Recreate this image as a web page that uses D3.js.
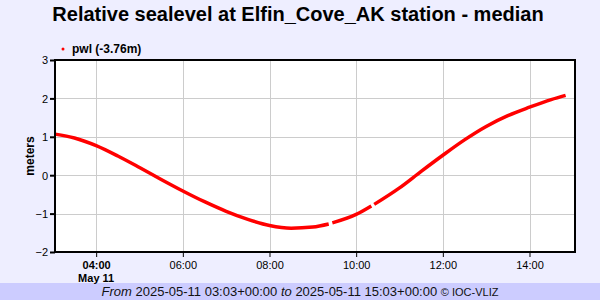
<!DOCTYPE html>
<html>
<head>
<meta charset="utf-8">
<script src="https://cdn.jsdelivr.net/npm/d3@7"></script>
<style>
  body { margin: 0; background: #eeeeff; }
  svg { display: block; font-family: "Liberation Sans", Arial, sans-serif; }
</style>
</head>
<body>
<svg id="chart" width="600" height="300"></svg>
<script>
// sea level samples (time of day, metres); null marks a gap in the record
var times = ["03:03","03:30","04:00","04:30","05:00","05:30","06:00","06:30","07:00","07:30",
             "08:00","08:30","09:00","09:22","09:24","09:27","10:00","10:21","10:23","10:25",
             "11:00","11:30","12:00","12:30","13:00","13:30","14:00","14:30","14:50"];
var levels = [1.07, 0.97, 0.77, 0.50, 0.20, -0.11, -0.41, -0.69, -0.94, -1.15,
              -1.31, -1.38, -1.35, -1.27, null, -1.24, -1.02, -0.80, null, -0.76,
              -0.33, 0.10, 0.52, 0.92, 1.27, 1.55, 1.77, 1.97, 2.08];
var yTicks = [-2, -1, 0, 1, 2, 3];
var xTickHours = ["04:00","06:00","08:00","10:00","12:00","14:00"];
var day = "2025-05-11";
var startTime = "03:03", endTime = "15:03";

var parse = d3.utcParse("%Y-%m-%d %H:%M");
var data = times.map(function(t, i) { return {t: parse(day + " " + t), v: levels[i]}; });

var svg = d3.select("#chart");
var m = {left: 55, right: 575, top: 60, bottom: 252};

var x = d3.scaleUtc().domain([parse(day + " " + startTime), parse(day + " " + endTime)]).range([m.left, m.right]);
var y = d3.scaleLinear().domain([-2, 3]).range([m.bottom, m.top]);

// footer band
svg.append("rect").attr("x", 0).attr("y", 283).attr("width", 600).attr("height", 17).attr("fill", "#ccccff");

// plot area
svg.append("rect").attr("x", m.left).attr("y", m.top).attr("width", m.right - m.left).attr("height", m.bottom - m.top).attr("fill", "#fff");

var xTicks = xTickHours.map(function(h) { return parse(day + " " + h); });
svg.append("g").selectAll("line").data(xTicks).enter().append("line")
  .attr("x1", function(d) { return Math.round(x(d)) + 0.5; }).attr("x2", function(d) { return Math.round(x(d)) + 0.5; })
  .attr("y1", m.top).attr("y2", m.bottom).attr("stroke", "#cccccc").attr("stroke-width", 1);
svg.append("g").selectAll("line").data(yTicks).enter().append("line")
  .attr("x1", m.left).attr("x2", m.right)
  .attr("y1", function(d) { return Math.round(y(d)) + 0.5; }).attr("y2", function(d) { return Math.round(y(d)) + 0.5; })
  .attr("stroke", "#cccccc").attr("stroke-width", 1);

// series
var line = d3.line().defined(function(d) { return d.v !== null; })
  .x(function(d) { return x(d.t); }).y(function(d) { return y(d.v); })
  .curve(d3.curveMonotoneX);
svg.append("path").datum(data).attr("d", line)
  .attr("fill", "none").attr("stroke", "#ff0000").attr("stroke-width", 3.5).attr("stroke-linecap", "butt");

// frame
svg.append("rect").attr("x", m.left).attr("y", m.top).attr("width", m.right - m.left).attr("height", m.bottom - m.top)
  .attr("fill", "none").attr("stroke", "#000").attr("stroke-width", 2);

// y axis
var ya = svg.append("g").attr("transform", "translate(" + m.left + ",0)")
  .call(d3.axisLeft(y).tickValues(yTicks).tickSize(5).tickFormat(d3.format("d")));
ya.select(".domain").remove();
ya.selectAll("line").attr("stroke", "#000").attr("stroke-width", 2);
ya.selectAll("text").attr("font-size", 11).attr("fill", "#000").attr("font-family", "Liberation Sans, Arial, sans-serif").attr("dy", "0.36em").attr("x", -7);

// x axis
var fmt = d3.utcFormat("%H:%M");
var xa = svg.append("g").attr("transform", "translate(0," + m.bottom + ")")
  .call(d3.axisBottom(x).tickValues(xTicks).tickSize(5).tickFormat(fmt));
xa.select(".domain").remove();
xa.selectAll("line").attr("stroke", "#000").attr("stroke-width", 1);
xa.selectAll("text").attr("font-size", 11).attr("fill", "#000").attr("font-family", "Liberation Sans, Arial, sans-serif")
  .attr("y", 9).attr("font-weight", function(d, i) { return i === 0 ? "bold" : "normal"; });
svg.append("text").attr("x", x(xTicks[0])).attr("y", 282).attr("text-anchor", "middle")
  .attr("font-size", 11).attr("font-weight", "bold").text(d3.utcFormat("%b %-d")(xTicks[0]));

// y axis title
svg.append("text").attr("transform", "translate(34,156) rotate(-90)").attr("text-anchor", "middle")
  .attr("font-size", 12).attr("font-weight", "bold").text("meters");

// title
svg.append("text").attr("x", 298).attr("y", 21).attr("text-anchor", "middle")
  .attr("font-size", 20).attr("font-weight", "bold").text("Relative sealevel at Elfin_Cove_AK station - median");

// legend
svg.append("circle").attr("cx", 63).attr("cy", 49).attr("r", 1.5).attr("fill", "#ff0000");
svg.append("text").attr("x", 72).attr("y", 53).attr("font-size", 12).attr("font-weight", "bold")
  .text("pwl (-3.76m)");

// footer
var ft = svg.append("text").attr("x", 300).attr("y", 296).attr("text-anchor", "middle").attr("font-size", 13).attr("fill", "#111");
ft.append("tspan").attr("font-style", "italic").text("From ");
ft.append("tspan").text(day + " " + startTime + "+00:00 ");
ft.append("tspan").attr("font-style", "italic").text("to ");
ft.append("tspan").text(day + " " + endTime + "+00:00 ");
ft.append("tspan").attr("font-size", 11).text("© IOC-VLIZ");
</script>
</body>
</html>
